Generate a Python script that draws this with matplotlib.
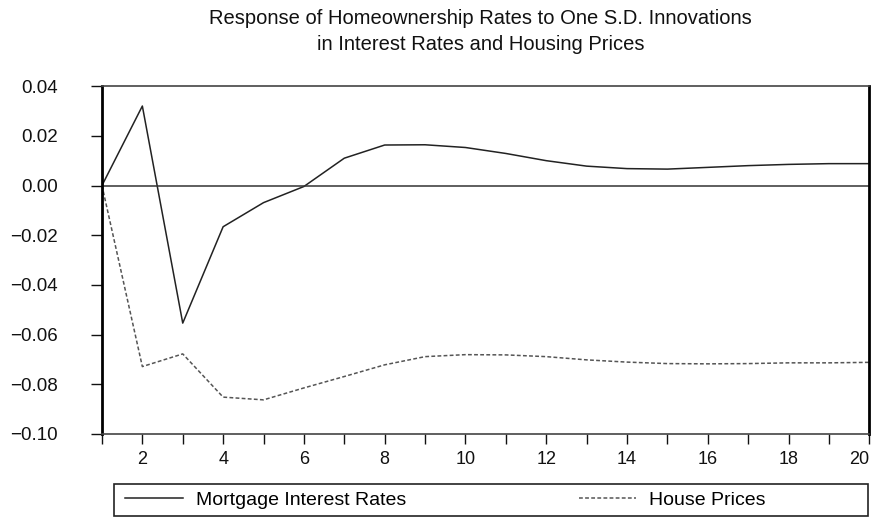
import numpy as np
import matplotlib.pyplot as plt
from matplotlib.patches import Rectangle

# Periodos del impulso-respuesta
periods = np.arange(1, 21)

# Respuesta a la tasa hipotecaria
mortgage = [0.0, 0.032, -0.0554, -0.0166, -0.0069, -0.0004, 0.011, 0.0163, 0.0164, 0.0153,
            0.0129, 0.0100, 0.0078, 0.0068, 0.0066, 0.0073, 0.0080, 0.0085, 0.0088, 0.0088]

# Respuesta al precio de la vivienda
house = [0.0, -0.0729, -0.0678, -0.0852, -0.0863, -0.0815, -0.0769, -0.0722, -0.0689, -0.0681,
         -0.0682, -0.0689, -0.0702, -0.0711, -0.0717, -0.0718, -0.0717, -0.0714, -0.0714, -0.0712]

yticks = [0.04, 0.02, 0.00, -0.02, -0.04, -0.06, -0.08, -0.10]
xticks = list(range(2, 21, 2))

plt.rcParams['font.family'] = ['Liberation Sans', 'DejaVu Sans']

fig = plt.figure(figsize=(8.79, 5.19), dpi=100)
ax = fig.add_axes([0.116, 0.164, 0.873, 0.670])

ax.plot(periods, mortgage, color='#222222', lw=1.1, label='Mortgage Interest Rates')
ax.plot(periods, house, color='#555555', lw=1.1, ls=(0, (2.5, 1.5)), label='House Prices')
ax.axhline(0, color='#333333', lw=1.1)

ax.set_xlim(1, 20)
ax.set_ylim(-0.10, 0.04)
ax.set_yticks(yticks)
ax.set_yticklabels([f'{v:.2f}'.replace('-', '\u2212') for v in yticks])
ax.set_xticks(range(1, 21), minor=True)
ax.set_xticks(xticks)
ax.tick_params(axis='both', which='both', direction='out', length=8, width=1.0,
               labelsize=13.5, colors='#111111')
ax.tick_params(axis='y', pad=24)
ax.tick_params(axis='x', which='both', length=7, pad=5, labelsize=13)
for side in ['left', 'right']:
    ax.spines[side].set_linewidth(2.0)
for side in ['top', 'bottom']:
    ax.spines[side].set_linewidth(1.2)
    ax.spines[side].set_color('#444444')

# el "20" queda pegado al borde derecho
ax.get_xticklabels()[-1].set_horizontalalignment('right')
ax.get_xticklabels()[-1].set_x(20.12)

fig.text(0.547, 0.940, 'Response of Homeownership Rates to One S.D. Innovations\n'
         'in Interest Rates and Housing Prices', ha='center', va='center',
         fontsize=14.5, linespacing=1.45, color='#111111')

# Leyenda en recuadro bajo el gráfico
fig.add_artist(Rectangle((0.130, 0.006), 0.857, 0.062, transform=fig.transFigure,
                         fill=False, edgecolor='#222222', lw=1.2))
h, l = ax.get_legend_handles_labels()
fig.legend(h, l, loc='center left', bbox_to_anchor=(0.138, 0.037), ncol=2,
           frameon=False, fontsize=14, handlelength=2.95, columnspacing=8.9,
           handletextpad=0.67, borderpad=0.2, borderaxespad=0.0)

fig.savefig('out.png', dpi=100)
